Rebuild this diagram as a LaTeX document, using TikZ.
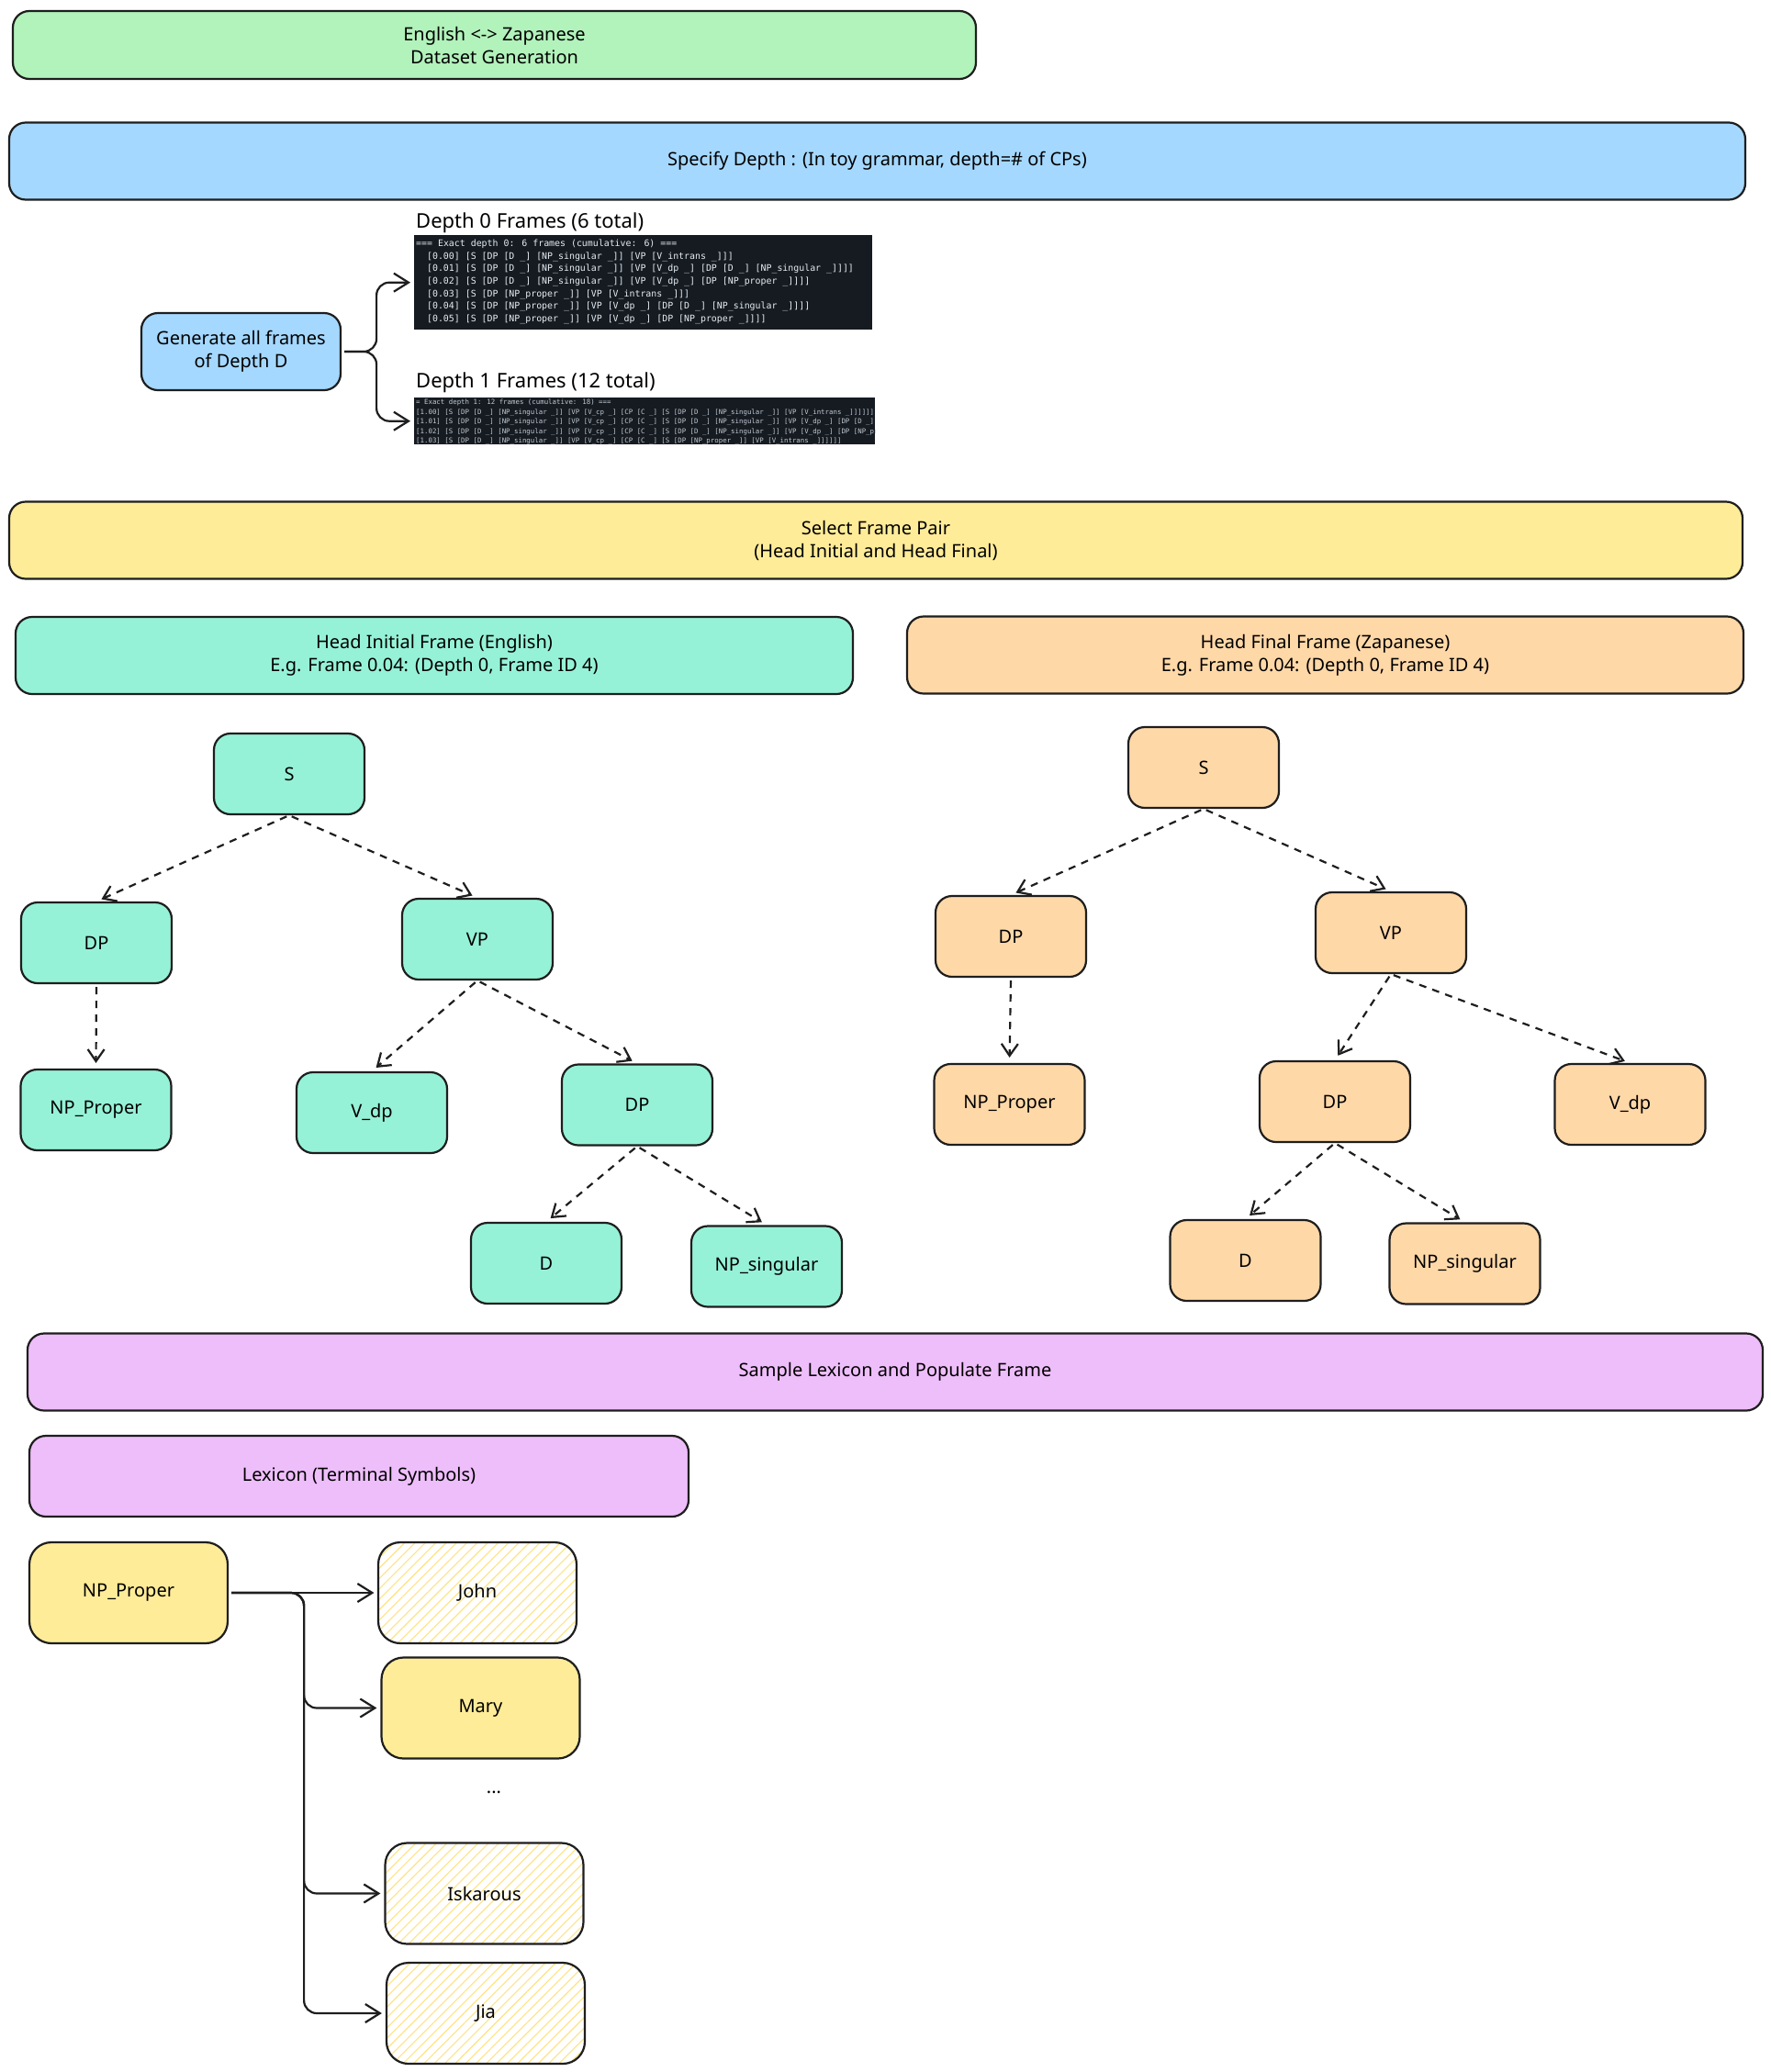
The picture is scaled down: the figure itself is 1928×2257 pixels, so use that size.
\documentclass[tikz,border=0pt]{standalone}
\usepackage{fontspec}
\setmainfont{Noto Sans}
\newfontfamily\codefont{DejaVu Sans Mono}
\usepackage{xcolor}
\usepackage{tikz}
\usetikzlibrary{arrows.meta,patterns.meta,positioning}

\definecolor{ink}{HTML}{1E1E1E}
\definecolor{titlegreen}{HTML}{B2F2BB}
\definecolor{stepblue}{HTML}{A5D8FF}
\definecolor{pairyellow}{HTML}{FFEC99}
\definecolor{initmint}{HTML}{96F2D7}
\definecolor{finalpeach}{HTML}{FFD8A8}
\definecolor{lexlilac}{HTML}{EEBEFA}
\definecolor{codebg}{HTML}{161B22}
\definecolor{codefg}{HTML}{E6EDF3}
\definecolor{codedim}{HTML}{C3CAD2}
\definecolor{hatchyellow}{HTML}{FFE383}

\begin{document}
\begin{tikzpicture}[
    x=1pt, y=-1pt,
    box/.style={draw=ink, line width=2.2pt, rounded corners=18pt, align=center, inner sep=0pt,
        font=\fontsize{20}{25}\selectfont},
    banner/.style={box, minimum height=84pt},
    treenode/.style={box, minimum width=164pt, minimum height=88pt},
    lexbox/.style={box, minimum width=216pt, minimum height=110pt, rounded corners=24pt},
    hatched/.style={lexbox, pattern={Lines[angle=45, distance=8pt, line width=1.1pt]}, pattern color=hatchyellow},
    codebox/.style={fill=codebg, anchor=north west, inner sep=0pt},
    codetext/.style={anchor=north west, align=left, inner xsep=2pt, inner ysep=5pt, text=codefg, font=\codefont},
    caption/.style={anchor=south west, inner sep=2pt, font=\fontsize{22}{26}\selectfont},
    arrow/.style={-{Straight Barb[length=16pt, width=20pt]}, line width=2.2pt, draw=ink, shorten >=4pt, shorten <=3pt},
    dasharrow/.style={arrow, dash pattern=on 8pt off 7pt, -{Straight Barb[length=13pt, width=18pt]}, shorten >=6pt}
]
    \path[use as bounding box, fill=white] (0,0) rectangle (1928,2257);

    % Stages
    \node[box, fill=titlegreen, minimum width=1049pt, minimum height=74pt] (title) at (538.5,49)
        {English <-> Zapanese\\Dataset Generation};
    \node[banner, fill=stepblue, minimum width=1891pt] (depth) at (955.5,175.5)
        {Specify Depth : (In toy grammar, depth=\# of CPs)};
    \node[box, fill=stepblue, minimum width=217pt, minimum height=84pt] (gen) at (262.5,383)
        {Generate all frames\\of Depth D};

    % Frame listings
    \node[codebox, minimum width=499pt, minimum height=103pt] (code0) at (451,256) {};
    \node[codetext, font=\codefont\fontsize{9.9}{13.6}\selectfont] (code0txt) at (code0.north west)
        {=== Exact depth 0: 6 frames (cumulative: 6) ===\\
        \hspace*{1.2em}[0.00] [S [DP [D \_] [NP\_singular \_]] [VP [V\_intrans \_]]]\\
        \hspace*{1.2em}[0.01] [S [DP [D \_] [NP\_singular \_]] [VP [V\_dp \_] [DP [D \_] [NP\_singular \_]]]]\\
        \hspace*{1.2em}[0.02] [S [DP [D \_] [NP\_singular \_]] [VP [V\_dp \_] [DP [NP\_proper \_]]]]\\
        \hspace*{1.2em}[0.03] [S [DP [NP\_proper \_]] [VP [V\_intrans \_]]]\\
        \hspace*{1.2em}[0.04] [S [DP [NP\_proper \_]] [VP [V\_dp \_] [DP [D \_] [NP\_singular \_]]]]\\
        \hspace*{1.2em}[0.05] [S [DP [NP\_proper \_]] [VP [V\_dp \_] [DP [NP\_proper \_]]]]};
    \node[caption] (cap0) at (code0.north west) {Depth 0 Frames (6 total)};

    \node[codebox, minimum width=502pt, minimum height=51pt] (code1) at (451,433) {};
    \begin{scope}
        \clip (code1.north west) rectangle (code1.south east);
        \node[codetext, inner ysep=0pt, text=codedim, font=\codefont\fontsize{7.4}{10.4}\selectfont] (code1txt)
            at ([yshift=-2pt]code1.north west)
            {= Exact depth 1: 12 frames (cumulative: 18) ===\\\relax
            [1.00] [S [DP [D \_] [NP\_singular \_]] [VP [V\_cp \_] [CP [C \_] [S [DP [D \_] [NP\_singular \_]] [VP [V\_intrans \_]]]]]]\\\relax
            [1.01] [S [DP [D \_] [NP\_singular \_]] [VP [V\_cp \_] [CP [C \_] [S [DP [D \_] [NP\_singular \_]] [VP [V\_dp \_] [DP [D \_]\\\relax
            [1.02] [S [DP [D \_] [NP\_singular \_]] [VP [V\_cp \_] [CP [C \_] [S [DP [D \_] [NP\_singular \_]] [VP [V\_dp \_] [DP [NP\_proper\\\relax
            [1.03] [S [DP [D \_] [NP\_singular \_]] [VP [V\_cp \_] [CP [C \_] [S [DP [NP\_proper \_]] [VP [V\_intrans \_]]]]]]};
    \end{scope}
    \node[caption] (cap1) at ([yshift=3pt]code1.north west) {Depth 1 Frames (12 total)};

    \draw[arrow, rounded corners=14pt] (gen.east) -- ++(38,0) |- (code0.west);
    \draw[arrow, rounded corners=14pt] (gen.east) -- ++(38,0) |- (code1.west);

    \node[banner, fill=pairyellow, minimum width=1888pt] (pair) at (954,588.5)
        {Select Frame Pair\\(Head Initial and Head Final)};
    \node[banner, fill=initmint, minimum width=912pt] (initial) at (473,714)
        {Head Initial Frame (English)\\E.g. Frame 0.04: (Depth 0, Frame ID 4)};
    \node[banner, fill=finalpeach, minimum width=911pt] (final) at (1443.5,713.5)
        {Head Final Frame (Zapanese)\\E.g. Frame 0.04: (Depth 0, Frame ID 4)};

    % Head initial tree
    \node[treenode, fill=initmint] (is) at (315,843) {S};
    \node[treenode, fill=initmint] (idp) at (105,1027) {DP};
    \node[treenode, fill=initmint] (ivp) at (520,1023) {VP};
    \node[treenode, fill=initmint] (inp) at (104.5,1209) {NP\_Proper};
    \node[treenode, fill=initmint] (iv) at (405,1212) {V\_dp};
    \node[treenode, fill=initmint] (iobj) at (694,1203.5) {DP};
    \node[treenode, fill=initmint] (id) at (595,1376) {D};
    \node[treenode, fill=initmint] (ins) at (835,1379.5) {NP\_singular};

    \draw[dasharrow] (is.south) -- (idp.north);
    \draw[dasharrow] (is.south) -- (ivp.north);
    \draw[dasharrow] (idp.south) -- (inp.north);
    \draw[dasharrow] (ivp.south) -- (iv.north);
    \draw[dasharrow] (ivp.south) -- (iobj.north);
    \draw[dasharrow] (iobj.south) -- (id.north);
    \draw[dasharrow] (iobj.south) -- (ins.north);

    % Head final tree
    \node[treenode, fill=finalpeach] (fs) at (1311,836) {S};
    \node[treenode, fill=finalpeach] (fdp) at (1101,1020) {DP};
    \node[treenode, fill=finalpeach] (fvp) at (1515,1016) {VP};
    \node[treenode, fill=finalpeach] (fnp) at (1099.5,1203) {NP\_Proper};
    \node[treenode, fill=finalpeach] (fobj) at (1454,1200) {DP};
    \node[treenode, fill=finalpeach] (fv) at (1775.5,1203) {V\_dp};
    \node[treenode, fill=finalpeach] (fd) at (1356.5,1373) {D};
    \node[treenode, fill=finalpeach] (fns) at (1595.5,1376.5) {NP\_singular};

    \draw[dasharrow] (fs.south) -- (fdp.north);
    \draw[dasharrow] (fs.south) -- (fvp.north);
    \draw[dasharrow] (fdp.south) -- (fnp.north);
    \draw[dasharrow] (fvp.south) -- (fobj.north);
    \draw[dasharrow] (fvp.south) -- (fv.north);
    \draw[dasharrow] (fobj.south) -- (fd.north);
    \draw[dasharrow] (fobj.south) -- (fns.north);

    % Lexicon
    \node[banner, fill=lexlilac, minimum width=1890pt] (sample) at (975,1494.5)
        {Sample Lexicon and Populate Frame};
    \node[box, fill=lexlilac, minimum width=718pt, minimum height=88pt] (lexicon) at (391,1608)
        {Lexicon (Terminal Symbols)};

    \node[lexbox, fill=pairyellow] (proper) at (140,1735) {NP\_Proper};
    \node[hatched] (john) at (520,1735) {John};
    \node[lexbox, fill=pairyellow] (mary) at (523.5,1860.5) {Mary};
    \node[font=\fontsize{20}{25}\selectfont] (more) at (538,1952) {...};
    \node[hatched] (iskarous) at (527.5,2062.5) {Iskarous};
    \node[hatched] (jia) at (529,2193) {Jia};

    \draw[arrow] (proper.east) -- (john.west);
    \draw[arrow, rounded corners=14pt] (proper.east) -- ++(82,0) |- (mary.west);
    \draw[arrow, rounded corners=14pt] (proper.east) -- ++(82,0) |- (iskarous.west);
    \draw[arrow, rounded corners=14pt] (proper.east) -- ++(82,0) |- (jia.west);

\end{tikzpicture}
\end{document}
